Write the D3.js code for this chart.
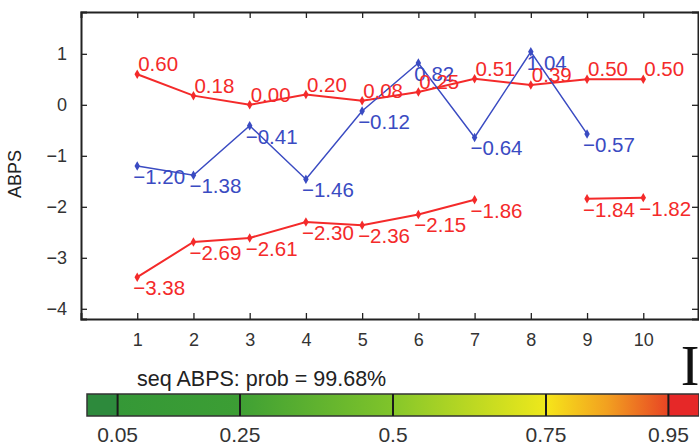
<!DOCTYPE html>
<html><head><meta charset="utf-8">
<script src="https://cdn.jsdelivr.net/npm/d3@7"></script>
<style>body{margin:0;background:#fff}svg{display:block}</style>
</head><body><svg id="c" width="699" height="445" font-family="Liberation Sans, Arial, sans-serif"></svg>
<script>
const xTicks = [1,2,3,4,5,6,7,8,9,10];
const yTicks = [-4,-3,-2,-1,0,1];
const redTop = [0.60,0.18,0.00,0.20,0.08,0.25,0.51,0.39,0.50,0.50];
const blue = [-1.20,-1.38,-0.41,-1.46,-0.12,0.82,-0.64,1.04,-0.57,null];
const redBottom = [-3.38,-2.69,-2.61,-2.30,-2.36,-2.15,-1.86,null,-1.84,-1.82];
const cbTicks = [0.05,0.25,0.5,0.75,0.95];
const cbTickLabels = ["0.05","0.25","0.5","0.75","0.95"];
const cbStops = [
  [0,"#2d8a3c"],[0.05,"#2d8a3c"],[0.05,"#359837"],[0.25,"#3c9e34"],
  [0.25,"#3fa034"],[0.5,"#80c42a"],[0.5,"#86c72a"],[0.75,"#eee81b"],
  [0.75,"#f6e61a"],[0.85,"#f2a020"],[0.95,"#e84424"],[0.95,"#e62828"],[1,"#e62828"]
];
const title = "seq ABPS: prob = 99.68%";
const yLabel = "ABPS";

const svg = d3.select("#c");
const x = d3.scaleLinear().domain([0,11]).range([81,699.5]);
const y = d3.scaleLinear().domain([-4.2,1.82]).range([319,12]);
const RED = "#f42a2a", BLUE = "#3a4bc2", AX = "#222";
const SANS = "Liberation Sans, Arial, sans-serif";

// axes box
const g = svg.append("g");
g.append("g").attr("transform","translate(0,319)")
  .call(d3.axisBottom(x).tickValues(xTicks).tickSize(-6).tickPadding(14).tickFormat(d3.format("d")));
g.append("g").attr("transform","translate(0,12)")
  .call(d3.axisTop(x).tickValues(xTicks).tickSize(-6).tickFormat(""));
g.append("g").attr("transform","translate(81,0)")
  .call(d3.axisLeft(y).tickValues(yTicks).tickSize(-6).tickPadding(14).tickFormat(d=>d<0?"\u2212"+(-d):d));
g.append("g").attr("transform","translate(698,0)")
  .call(d3.axisRight(y).tickValues(yTicks).tickSize(-6).tickFormat(""));
g.selectAll(".domain").attr("stroke",AX).attr("stroke-width",2);
g.selectAll(".tick line").attr("stroke",AX).attr("stroke-width",1.3);
g.selectAll(".tick text").style("font-size","18px").style("font-family",SANS).attr("fill","#333");

svg.append("text").attr("transform","translate(21,174) rotate(-90)")
  .attr("text-anchor","middle").style("font-size","18px").attr("fill","#222").text(yLabel);

function series(vals,color,w){
  const data = vals.map((v,i)=>({x:xTicks[i],v}));
  const line = d3.line().defined(d=>d.v!==null).x(d=>x(d.x)).y(d=>y(d.v));
  svg.append("path").datum(data).attr("d",line).attr("fill","none")
    .attr("stroke",color).attr("stroke-width",w);
  svg.append("g").selectAll("path").data(data.filter(d=>d.v!==null)).join("path")
    .attr("d",d3.symbol(d3.symbolDiamond,26)).attr("fill",color)
    .attr("transform",d=>`translate(${x(d.x)},${y(d.v)})`);
  return data;
}
function labels(data,color,above){
  svg.append("g").selectAll("text").data(data.filter(d=>d.v!==null)).join("text")
    .attr("x",d=>x(d.x)+(above?1:-4)).attr("y",d=>y(d.v)+(above?-3:18))
    .style("font-size","20.5px").attr("fill",color)
    .text(d=>(d.v<0?"\u2212":"")+Math.abs(d.v).toFixed(2));
}
const dTop = series(redTop,RED,2);
const dBlue = series(blue,BLUE,1.5);
const dBot = series(redBottom,RED,2);
labels(dBlue,BLUE,false);
labels(dTop,RED,true);
labels(dBot,RED,false);

// title
svg.append("text").attr("x",137).attr("y",386).style("font-size","21.5px").attr("fill","#222").text(title);
// clipped big serif I
svg.append("text").attr("x",690).attr("y",385).attr("text-anchor","middle")
  .style("font-family","Liberation Serif, Times New Roman, serif").style("font-size","56px")
  .attr("fill","#111").text("I");

// colorbar
const cb = d3.scaleLinear().domain([0,1]).range([87,699]);
const grad = svg.append("defs").append("linearGradient").attr("id","cbg")
  .attr("x1","0%").attr("x2","100%").attr("y1","0%").attr("y2","0%");
grad.selectAll("stop").data(cbStops).join("stop")
  .attr("offset",d=>d[0]*100+"%").attr("stop-color",d=>d[1]);
svg.append("rect").attr("x",cb(0)).attr("y",394).attr("width",cb(1)-cb(0)).attr("height",22)
  .attr("fill","url(#cbg)").attr("stroke","#333").attr("stroke-width",1.5);
svg.append("g").selectAll("line").data(cbTicks).join("line")
  .attr("x1",d=>cb(d)).attr("x2",d=>cb(d)).attr("y1",394).attr("y2",416)
  .attr("stroke","#1a1a1a").attr("stroke-width",2);
svg.append("g").selectAll("text").data(cbTicks).join("text")
  .attr("x",d=>cb(d)).attr("y",442).attr("text-anchor","middle")
  .style("font-size","21px").attr("fill","#333").text((d,i)=>cbTickLabels[i]);
</script></body></html>
